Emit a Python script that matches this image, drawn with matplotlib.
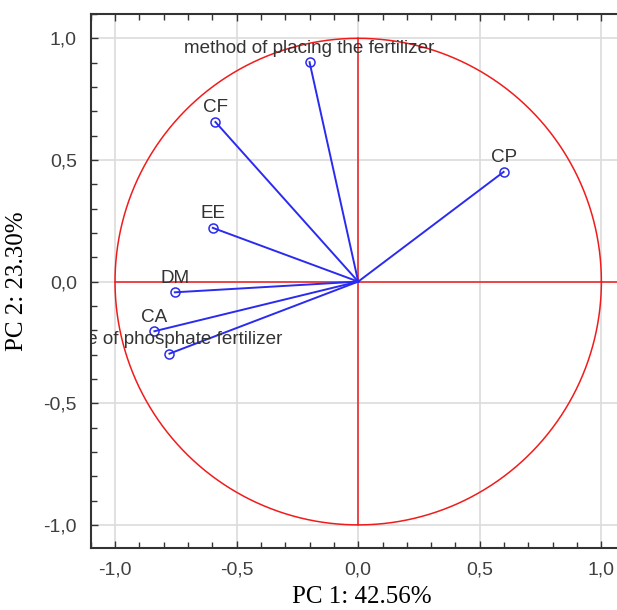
"""PCA correlation circle (loadings on PC 1 / PC 2) saved to out.png."""

import matplotlib

matplotlib.use("Agg")

import matplotlib.pyplot as plt  # noqa: E402
import numpy as np  # noqa: E402
from matplotlib.ticker import FuncFormatter, MultipleLocator  # noqa: E402

# Variable loadings
variables = [
    "method of placing the fertilizer",
    "CF",
    "CP",
    "EE",
    "DM",
    "CA",
    "dose of phosphate fertilizer",
]
pc1 = [-0.20, -0.587, 0.598, -0.598, -0.754, -0.838, -0.776]
pc2 = [0.902, 0.656, 0.451, 0.221, -0.044, -0.204, -0.296]

x_label = "PC 1: 42.56%"
y_label = "PC 2: 23.30%"

RED = "#f01c1c"
BLUE = "#2b2bf0"
GRID = "#dcdcdc"
INK = "#333333"
TICK_INK = "#404040"

fig = plt.figure(figsize=(6.17, 6.10), dpi=100)
ax = fig.add_axes([90.7 / 617, 62 / 610, 535 / 617, 534 / 610])
ax.set_xlim(-1.1, 1.1)
ax.set_ylim(-1.095, 1.1)

# unit circle and the cross through the origin
t = np.linspace(0, 2 * np.pi, 400)
ax.plot(np.cos(t), np.sin(t), color=RED, linewidth=1.1, zorder=2)
ax.plot([-1, 1.2], [0, 0], color=RED, linewidth=1.1, zorder=2)
ax.plot([0, 0], [-1, 1], color=RED, linewidth=1.1, zorder=2)

for name, x, y in zip(variables, pc1, pc2):
    ax.plot([0, x], [0, y], color=BLUE, linewidth=1.4, zorder=3)
    ax.plot(x, y, "o", mfc="none", mec=BLUE, mew=1.1, ms=6.5, zorder=4)
    ax.annotate(
        name, (x, y), xytext=(0, 4), textcoords="offset points",
        ha="center", va="bottom", fontsize=13.6, color=INK,
        family="Liberation Sans", annotation_clip=False, clip_on=True, zorder=5,
    )

ax.xaxis.set_major_locator(MultipleLocator(0.5))
ax.yaxis.set_major_locator(MultipleLocator(0.5))
ax.xaxis.set_minor_locator(MultipleLocator(0.1))
ax.yaxis.set_minor_locator(MultipleLocator(0.1))
comma = FuncFormatter(lambda v, _: f"{v:.1f}".replace(".", ",").replace("-0,0", "0,0"))
ax.xaxis.set_major_formatter(comma)
ax.yaxis.set_major_formatter(comma)

ax.grid(True, which="major", color=GRID, linewidth=1.2)
ax.set_axisbelow(True)
ax.tick_params(which="both", direction="in", top=True, right=False,
               color=INK, width=1)
ax.tick_params(which="major", length=5, pad=10, labelsize=14, labelcolor=TICK_INK)
ax.tick_params(which="minor", length=4)
for lbl in ax.get_xticklabels() + ax.get_yticklabels():
    lbl.set_family("Liberation Sans")

ax.spines["right"].set_visible(False)
for side in ("left", "bottom", "top"):
    ax.spines[side].set_color(INK)
    ax.spines[side].set_linewidth(1.5)

ax.set_xlabel(x_label, family="Liberation Serif", fontsize=18, color="black")
ax.set_ylabel(y_label, family="Liberation Serif", fontsize=18, color="black")
ax.xaxis.set_label_coords((362 - 90.7) / 535, -(586 - 548) / 534)
ax.yaxis.set_label_coords(-(90.7 - 28) / 535, (548 - 281) / 534)

fig.savefig("out.png", facecolor="white")
